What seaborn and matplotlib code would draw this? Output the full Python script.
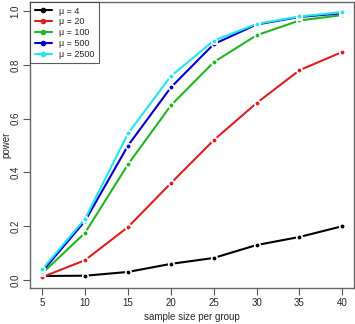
import matplotlib
matplotlib.use("Agg")
import matplotlib.pyplot as plt
import seaborn as sns
import pandas as pd
from matplotlib.lines import Line2D

sample_size = [5, 10, 15, 20, 25, 30, 35, 40]
mu_labels = ["\u03bc = 4", "\u03bc = 20", "\u03bc = 100", "\u03bc = 500", "\u03bc = 2500"]
power_mu4 = [0.015, 0.016, 0.03, 0.06, 0.082, 0.13, 0.16, 0.20]
power_mu20 = [0.011, 0.074, 0.197, 0.36, 0.52, 0.658, 0.78, 0.848]
power_mu100 = [0.025, 0.176, 0.43, 0.649, 0.81, 0.91, 0.965, 0.985]
power_mu500 = [0.032, 0.22, 0.50, 0.716, 0.877, 0.95, 0.978, 0.992]
power_mu2500 = [0.04, 0.228, 0.545, 0.758, 0.89, 0.952, 0.98, 0.996]
colors = ["#000000", "#DF1F1F", "#22B522", "#0000CD", "#22E5EE"]

series = [power_mu4, power_mu20, power_mu100, power_mu500, power_mu2500]
rows = []
for lab, vals in zip(mu_labels, series):
    for n, p in zip(sample_size, vals):
        rows.append({"n": n, "power": p, "mu": lab})
df = pd.DataFrame(rows)

sns.set_style("white")
plt.rcParams["font.family"] = ["Liberation Sans", "DejaVu Sans"]

fig = plt.figure(figsize=(3.55, 3.24), dpi=100)
ax = fig.add_axes([30.3 / 355, 36 / 324, 324 / 355, 286 / 324])

sns.lineplot(data=df, x="n", y="power", hue="mu", hue_order=mu_labels,
             palette=colors, marker="o", markersize=4, markeredgecolor="white",
             markeredgewidth=1.2, linewidth=1.5, ax=ax, legend=False)

ax.set_xlim(3.6, 41.4)
ax.set_ylim(-0.0297, 1.0337)
ax.set_xticks(sample_size)
ax.set_yticks([0.0, 0.2, 0.4, 0.6, 0.8, 1.0])
ax.set_yticklabels(["0.0", "0.2", "0.4", "0.6", "0.8", "1.0"], rotation=90, va="center")
ax.tick_params(axis="both", direction="out", length=5, width=0.8, labelsize=7,
               color="#555555", left=True, bottom=True, pad=2)
for s in ax.spines.values():
    s.set_color("#666666")
    s.set_linewidth(1.0)
ax.set_xlabel("sample size per group", fontsize=7, labelpad=3)
ax.set_ylabel("power", fontsize=7)
ax.yaxis.set_label_coords(-0.058, 0.5)

handles = [Line2D([0], [0], color=c, lw=1.5, marker="o", markersize=3) for c in colors]
leg = ax.legend(handles, mu_labels, loc="upper left", fontsize=6.5, frameon=True,
                fancybox=False, borderaxespad=0, handlelength=1.9, handletextpad=0.8,
                labelspacing=0.2, borderpad=0.5)
leg.get_frame().set_edgecolor("#333333")
leg.get_frame().set_linewidth(0.8)

fig.savefig("out.png", dpi=100)
